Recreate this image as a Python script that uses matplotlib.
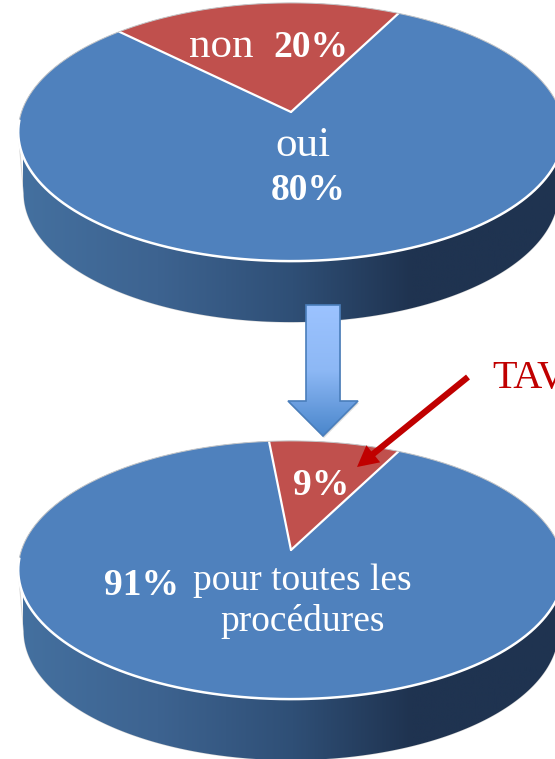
import numpy as np
import matplotlib
matplotlib.use('Agg')
import matplotlib.pyplot as plt
from matplotlib.colors import LinearSegmentedColormap
from matplotlib.patches import Polygon

plt.rcParams['font.family'] = ['Liberation Serif', 'DejaVu Serif']

topLabels = ['non', 'oui']
topValues = [20, 80]
bottomValues = [9, 91]
bottomLabels = ['TAV', 'pour toutes les', 'procédures']

BLUE = '#4f81bd'
RED = '#c0504d'
DARK_RED = '#c00000'
START_ANGLE = 63

sideCmap = LinearSegmentedColormap.from_list('side', [
    (0.0, '#44709f'), (0.25, '#3d6390'), (0.5, '#2f4f76'),
    (0.72, '#1f3350'), (1.0, '#1f3350')])
arrowCmap = LinearSegmentedColormap.from_list('arrow', ['#9cc3ff', '#8db8f5', '#4a86cb'])

fig = plt.figure(figsize=(5.55, 7.59), dpi=100)
ax = fig.add_axes([0, 0, 1, 1])
ax.axis('off')


# circle -> ellipse with a bit of perspective, the apex is not the ellipse centre
def project(angles, cx, cy):
    k = 0.155
    u = np.cos(np.radians(angles))
    v = np.sin(np.radians(angles))
    w = 1 + k * v
    return cx + 269.5 * u / w, cy - 126 * v / w


def drawPie(values, cx, cy):
    ts = np.linspace(0, 360, 361)
    x, y = project(ts, cx, cy)

    # side of the disc, gradient clipped on the shape
    fx, fy = project(np.linspace(189, 351, 200), cx, cy)
    lowX = cx + (fx - cx) * 0.98
    lowY = fy + 61
    hull = np.vstack([np.column_stack([fx, fy]), np.column_stack([lowX, lowY])[::-1]])
    sidePatch = Polygon(hull, closed=True, fc='none', ec='#d9d9d9', lw=0.8)
    ax.add_patch(sidePatch)
    grad = np.linspace(0, 1, 256).reshape(1, -1)
    im = ax.imshow(grad, cmap=sideCmap, extent=[cx - 268, cx + 272, cy + 260, cy - 20], aspect='auto', zorder=1)
    im.set_clip_path(sidePatch)

    # the small slice always starts at the same angle, going counter clockwise
    span = 360 * values[0] / sum(values)
    a1 = np.linspace(START_ANGLE, START_ANGLE + span, 100)
    a2 = np.linspace(START_ANGLE + span, START_ANGLE + 360, 400)
    ax.add_patch(Polygon(np.column_stack([x, y]), closed=True, fc=BLUE, ec='none', zorder=2))
    for angles, color in zip([a2, a1], [BLUE, RED]):
        px, py = project(angles, cx, cy)
        pts = np.vstack([[cx, cy], np.column_stack([px, py])])
        ax.add_patch(Polygon(pts, closed=True, fc=color, ec='none', zorder=3))
    # white borders of the slice
    for a in [START_ANGLE, START_ANGLE + span]:
        px, py = project(np.array([a]), cx, cy)
        ax.plot([cx, px[0]], [cy, py[0]], color='white', lw=1.6, zorder=4, solid_capstyle='round')
    ex, ey = project(np.linspace(-10, 190, 300), cx, cy)
    ax.plot(ex, ey, color='#c9c9c9', lw=0.7, zorder=4)
    ex, ey = project(np.linspace(184, 358, 200), cx, cy)
    ax.plot(ex, ey, color='white', lw=1.8, zorder=4)


drawPie(topValues, 291, 112)
drawPie(bottomValues, 291, 550)

# blue arrow between the two pies
arrowPts = [(306, 305), (340, 305), (340, 401), (358, 401), (323, 436), (288, 401), (306, 401)]
ax.add_patch(Polygon([(px + 1, py + 2) for px, py in arrowPts], closed=True, fc='#555555', ec='none', alpha=0.2, zorder=4.5))
arrow = Polygon(arrowPts, closed=True, fc='none', ec='#4a7ebb', lw=1.2, zorder=6)
ax.add_patch(arrow)
im = ax.imshow(np.linspace(0, 1, 256).reshape(-1, 1), cmap=arrowCmap, extent=[288, 358, 436, 305],
               aspect='auto', zorder=5)
im.set_clip_path(arrow)

# red arrow
ax.annotate('', xy=(357, 467), xytext=(468, 377), zorder=7,
            arrowprops=dict(arrowstyle='-|>,head_length=0.8,head_width=0.42', color=DARK_RED, lw=4.5,
                            shrinkA=0, shrinkB=0, capstyle='butt', joinstyle='miter'))

boldSize = 27
ax.text(189, 57, topLabels[0], color='white', fontsize=31, zorder=8)
ax.text(273, 57, '%d%%' % topValues[0], color='white', fontsize=boldSize, fontweight='bold', zorder=8)
ax.text(303, 156, topLabels[1], color='white', fontsize=31, ha='center', zorder=8)
ax.text(308, 200, '%d%%' % topValues[1], color='white', fontsize=boldSize, fontweight='bold', ha='center', zorder=8)
ax.text(321, 495, '%d%%' % bottomValues[0], color='white', fontsize=boldSize, fontweight='bold', ha='center', zorder=8)
ax.text(104, 595, '%d%%' % bottomValues[1], color='white', fontsize=boldSize, fontweight='bold', zorder=8)
ax.text(193, 590, bottomLabels[1], color='white', fontsize=27, zorder=8)
ax.text(220, 631, bottomLabels[2], color='white', fontsize=27, zorder=8)
ax.text(492, 388, bottomLabels[0], color=DARK_RED, fontsize=29, zorder=8)

ax.set_xlim(0, 555)
ax.set_ylim(759, 0)

plt.savefig('out.png', dpi=100)
